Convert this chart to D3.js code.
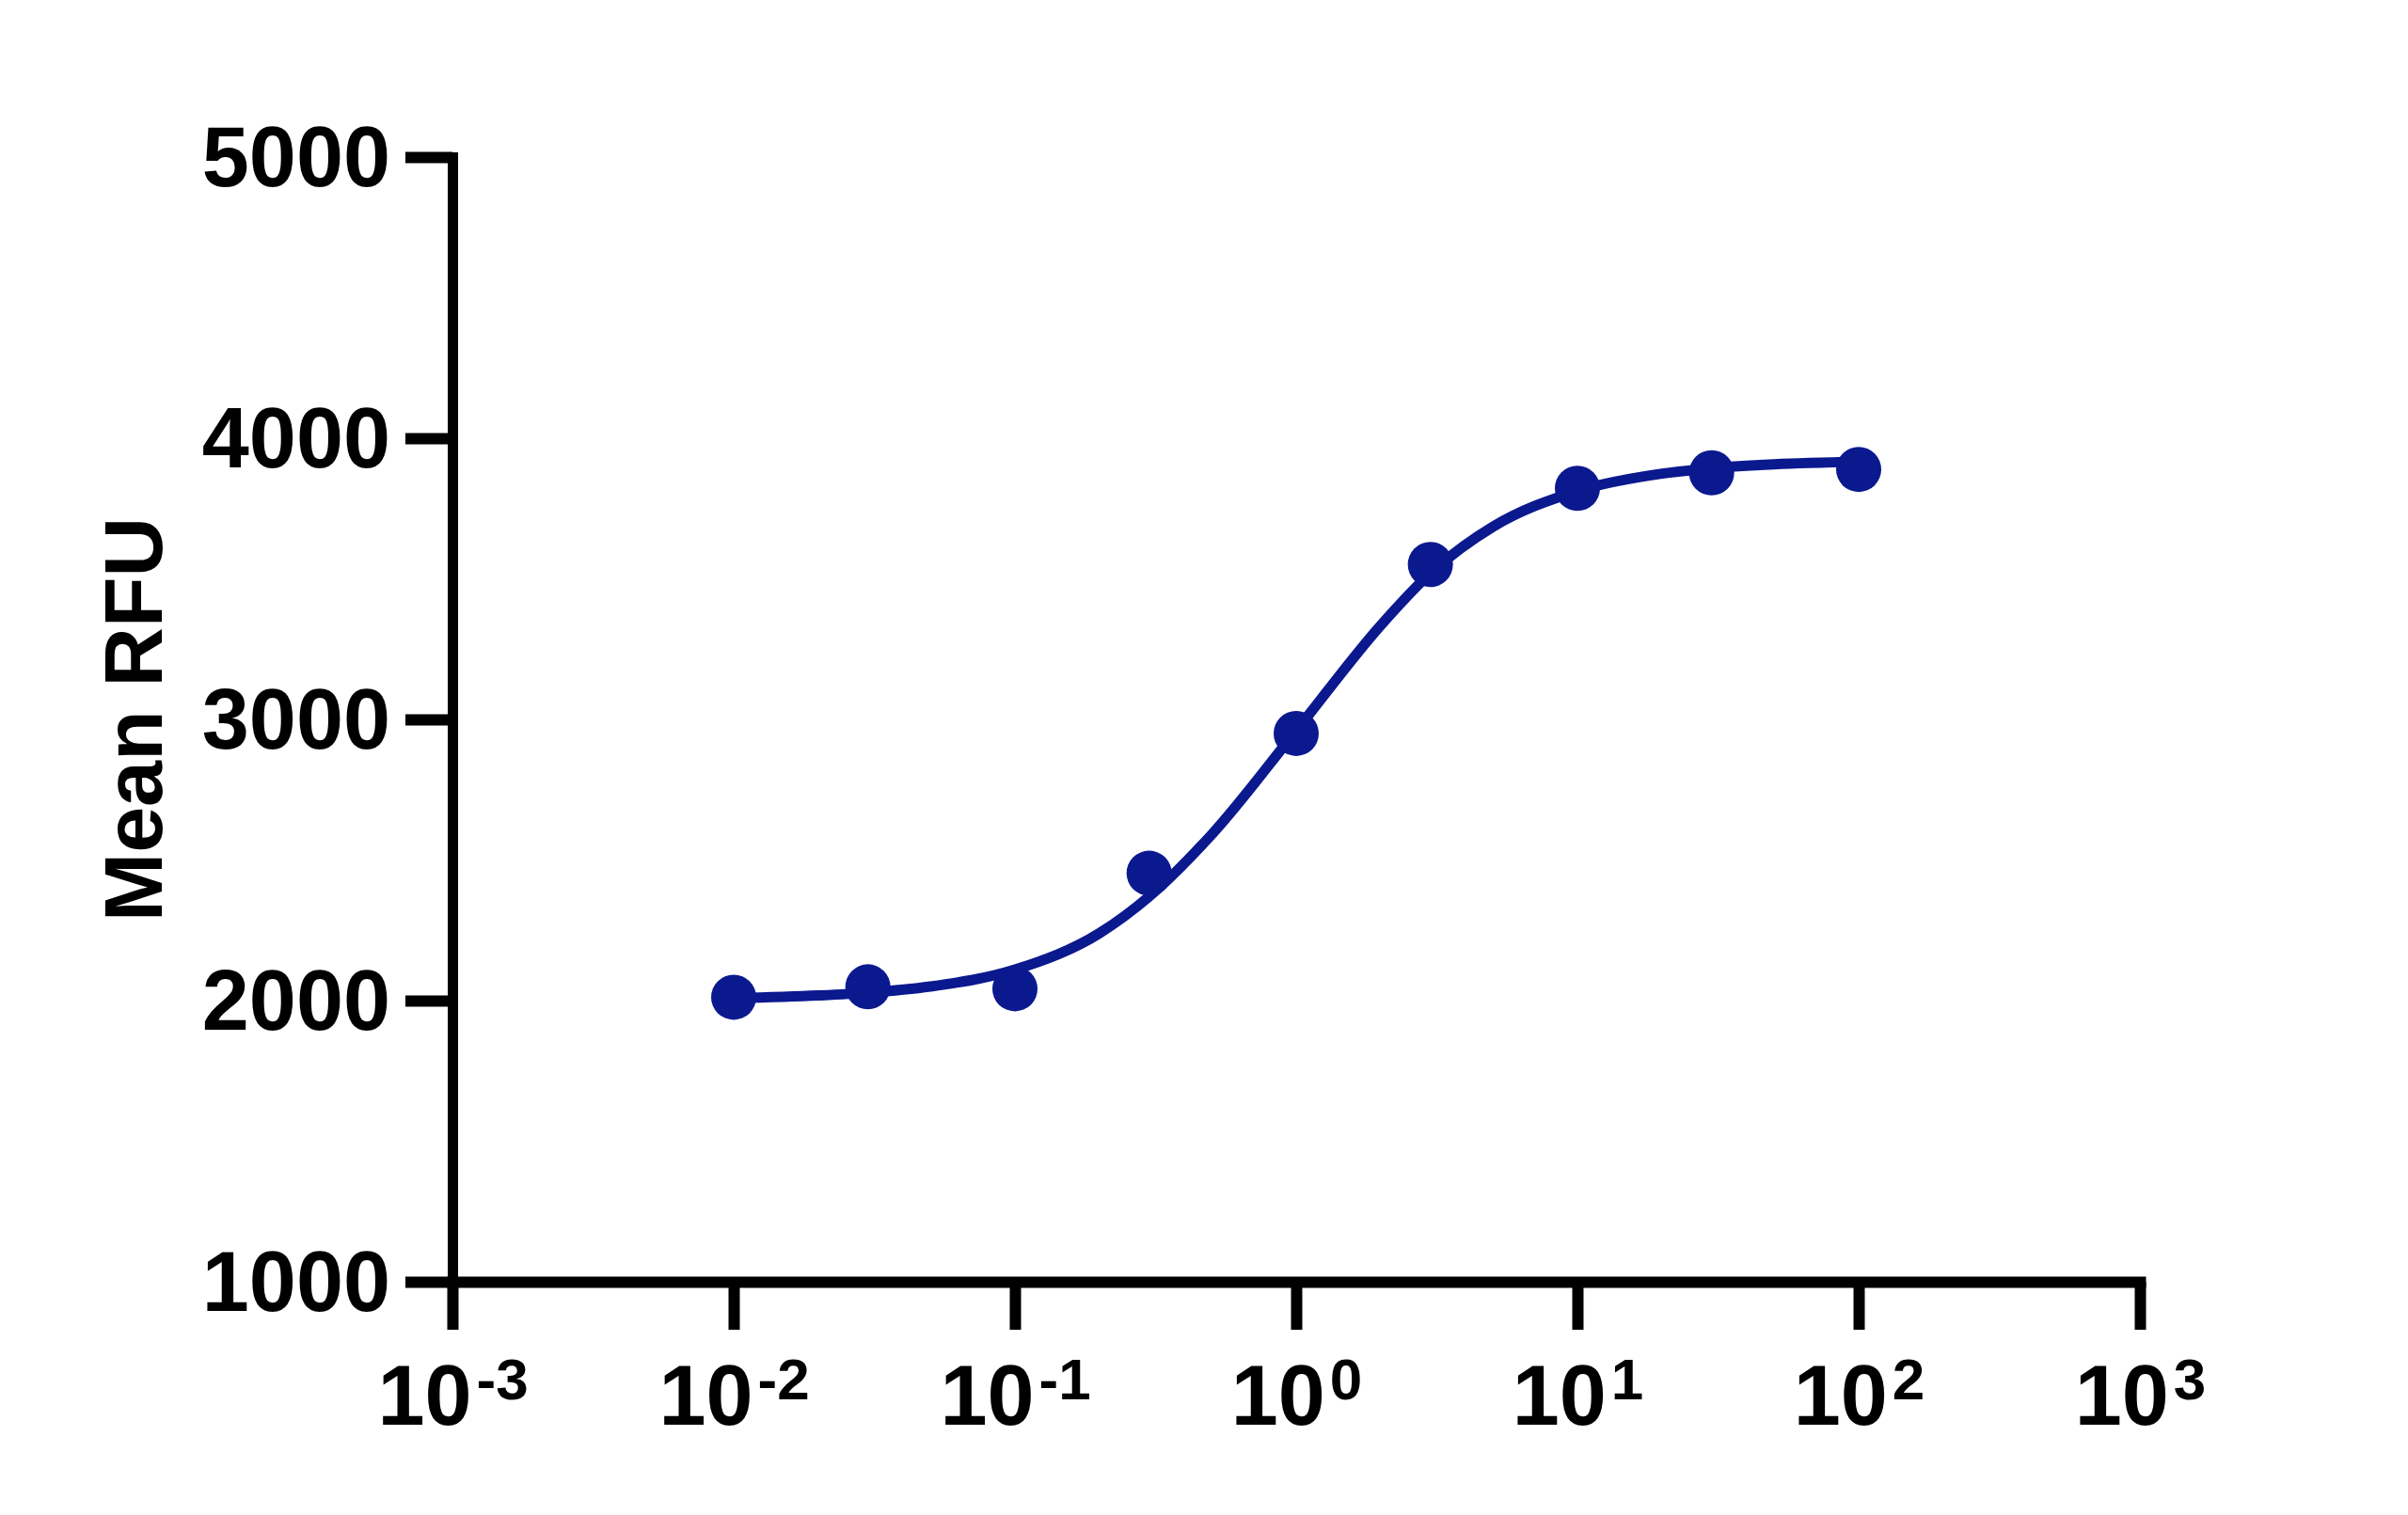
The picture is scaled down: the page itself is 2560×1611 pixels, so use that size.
<!DOCTYPE html>
<html>
<head>
<meta charset="utf-8">
<script src="https://cdn.jsdelivr.net/npm/d3@7"></script>
<style>
  body { margin: 0; background: #fff; }
  text { font-family: "Liberation Sans", Arial, sans-serif; font-weight: bold; fill: #000; }
</style>
</head>
<body>
<div id="chart"></div>
<script>
// measured points
var concentrations = [0.01, 0.03, 0.1, 0.3, 1, 3, 10, 30, 100];
var meanRFU = [2012, 2049, 2042, 2453, 2950, 3551, 3822, 3877, 3889];

// fitted curve
var fitX = [0.01, 0.02, 0.03, 0.05, 0.1, 0.2, 0.3, 0.5, 1, 2, 3, 5, 10, 20, 30, 50, 100];
var fitY = [2008, 2018, 2028, 2050, 2110, 2240, 2370, 2590, 2960, 3335, 3520, 3685, 3812, 3874, 3893, 3907, 3916];

var xExponents = [-3, -2, -1, 0, 1, 2, 3];
var yTicks = [1000, 2000, 3000, 4000, 5000];

var width = 2560, height = 1611;
var blue = "#0b198f";

var svg = d3.select("#chart").append("svg")
    .attr("width", width)
    .attr("height", height);

var xScale = d3.scaleLog().domain([1e-3, 1e3]).range([481, 2275]);
var yScale = d3.scaleLinear().domain([1000, 5000]).range([1363, 167]);

var xAxis = d3.axisBottom(xScale)
    .tickValues(xExponents.map(function(e) { return Math.pow(10, e); }))
    .tickSizeInner(51).tickSizeOuter(0)
    .tickFormat("");
var yAxis = d3.axisLeft(yScale)
    .tickValues(yTicks)
    .tickSizeInner(50).tickSizeOuter(0)
    .tickPadding(16)
    .tickFormat(d3.format("d"));

var gy = svg.append("g").attr("transform", "translate(481,0)").call(yAxis);
var gx = svg.append("g").attr("transform", "translate(0,1363)").call(xAxis);

gy.select(".domain").attr("stroke-width", 11).attr("stroke-linecap", "square");
gy.selectAll(".tick line").attr("stroke-width", 12);
gy.selectAll(".tick text").attr("font-size", 90).attr("font-family", null).attr("dy", "0.34em");

gx.select(".domain").attr("stroke-width", 12).attr("stroke-linecap", "square");
gx.selectAll(".tick line").attr("stroke-width", 12);

// x labels as 10 with a superscript power
gx.selectAll(".tick text").each(function(d, i) {
  var t = d3.select(this)
      .attr("font-family", null)
      .attr("y", 152).attr("dy", 0)
      .attr("text-anchor", "middle")
      .attr("font-size", 90);
  t.append("tspan").text("10");
  t.append("tspan")
      .attr("dx", 5)
      .attr("dy", -27)
      .attr("font-size", 62)
      .text(xExponents[i]);
});

svg.append("text")
    .attr("transform", "translate(172,765) rotate(-90)")
    .attr("text-anchor", "middle")
    .attr("font-size", 88)
    .text("Mean RFU");

// curve then points
var fitLine = d3.line()
    .x(function(d, i) { return xScale(fitX[i]); })
    .y(function(d) { return yScale(d); })
    .curve(d3.curveMonotoneX);

svg.append("path")
    .attr("d", fitLine(fitY))
    .attr("fill", "none")
    .attr("stroke", blue)
    .attr("stroke-width", 11);

svg.selectAll("circle.pt")
    .data(meanRFU)
    .enter().append("circle")
    .attr("class", "pt")
    .attr("cx", function(d, i) { return xScale(concentrations[i]); })
    .attr("cy", function(d) { return yScale(d); })
    .attr("r", 24)
    .attr("fill", blue);
</script>
</body>
</html>
